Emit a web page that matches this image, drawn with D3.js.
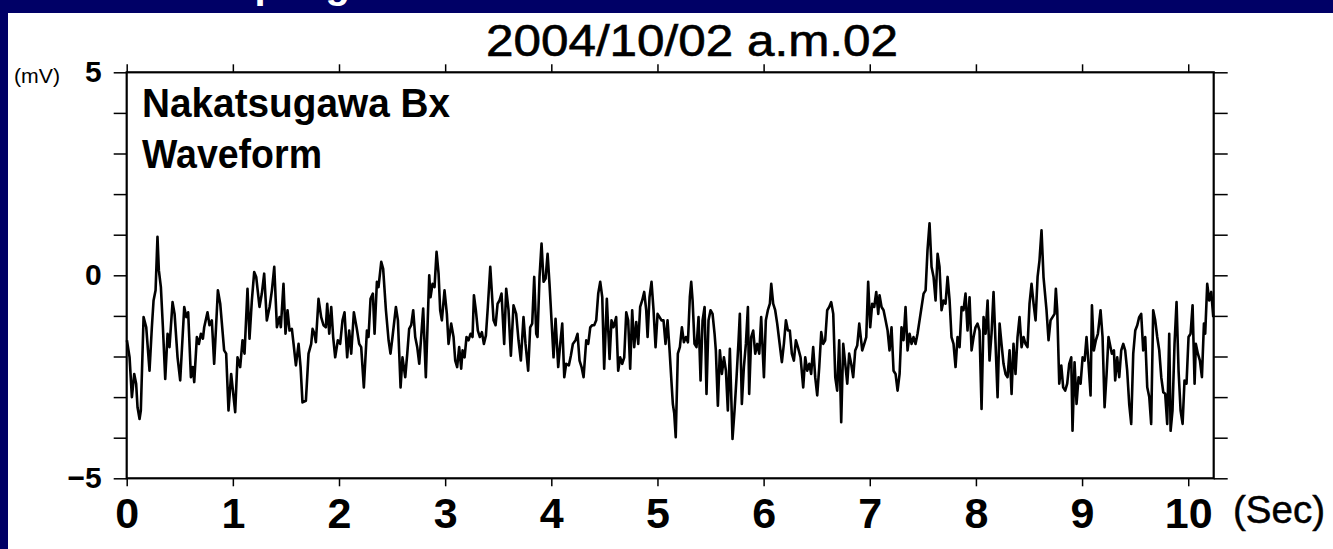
<!DOCTYPE html>
<html>
<head>
<meta charset="utf-8">
<title>Nakatsugawa Bx Waveform</title>
<script src="https://cdn.jsdelivr.net/npm/d3@7"></script>
<style>
    body { margin: 0; background: #000066; }
    #chart-area { width: 1333px; height: 549px; }
    text { font-family: "Liberation Sans", Arial, sans-serif; }
</style>
</head>
<body>
<div id="chart-area"></div>
<script>

// ---- data ----
const slideHeading = "Sampling";
const titleText = "2004/10/02 a.m.02";
const panelLines = ["Nakatsugawa Bx", "Waveform"];
const xUnit = "(Sec)";
const yUnit = "(mV)";

const xTicks = [0, 1, 2, 3, 4, 5, 6, 7, 8, 9, 10];
const yTicks = [-5, -4, -3, -2, -1, 0, 1, 2, 3, 4, 5];
const yLabelled = [-5, 0, 5];
const xDomain = [0, 10.24];
const yDomain = [-5, 5];

// time (s)
const waveTime = [
    0.002, 0.027, 0.049, 0.071, 0.089, 0.102, 0.121, 0.133, 0.159, 0.184, 0.215, 0.237, 0.253, 0.272, 0.290, 0.303,
    0.322, 0.341, 0.363, 0.385, 0.403, 0.432, 0.451, 0.479, 0.504, 0.542, 0.561, 0.579, 0.605, 0.623, 0.636, 0.661,
    0.680, 0.699, 0.718, 0.730, 0.761, 0.780, 0.802, 0.824, 0.859, 0.881, 0.918, 0.937, 0.959, 0.984, 1.022, 1.044,
    1.069, 1.091, 1.110, 1.138, 1.157, 1.179, 1.201, 1.220, 1.251, 1.273, 1.295, 1.320, 1.346, 1.368, 1.390, 1.415,
    1.440, 1.452, 1.477, 1.496, 1.515, 1.534, 1.556, 1.572, 1.594, 1.619, 1.638, 1.656, 1.688, 1.713, 1.738, 1.751,
    1.769, 1.782, 1.807, 1.832, 1.854, 1.876, 1.889, 1.908, 1.927, 1.945, 1.964, 1.989, 2.011, 2.033, 2.052, 2.077,
    2.096, 2.115, 2.140, 2.168, 2.190, 2.209, 2.234, 2.263, 2.278, 2.297, 2.319, 2.335, 2.357, 2.372, 2.398, 2.416,
    2.442, 2.467, 2.485, 2.504, 2.536, 2.555, 2.580, 2.598, 2.624, 2.643, 2.661, 2.680, 2.699, 2.718, 2.737, 2.756,
    2.774, 2.793, 2.818, 2.850, 2.862, 2.881, 2.900, 2.919, 2.938, 2.953, 2.969, 2.994, 3.016, 3.032, 3.057, 3.079,
    3.095, 3.113, 3.132, 3.151, 3.164, 3.183, 3.201, 3.220, 3.239, 3.258, 3.271, 3.289, 3.308, 3.327, 3.346, 3.365,
    3.384, 3.402, 3.425, 3.456, 3.475, 3.494, 3.512, 3.531, 3.556, 3.575, 3.597, 3.619, 3.644, 3.669, 3.691, 3.713,
    3.738, 3.757, 3.782, 3.801, 3.820, 3.839, 3.858, 3.870, 3.889, 3.908, 3.927, 3.946, 3.965, 3.983, 4.002, 4.021,
    4.040, 4.065, 4.084, 4.103, 4.122, 4.140, 4.165, 4.184, 4.203, 4.228, 4.247, 4.266, 4.285, 4.304, 4.329, 4.348,
    4.367, 4.385, 4.404, 4.423, 4.442, 4.461, 4.480, 4.498, 4.523, 4.549, 4.567, 4.586, 4.611, 4.630, 4.649, 4.668,
    4.687, 4.706, 4.724, 4.743, 4.762, 4.781, 4.800, 4.819, 4.837, 4.856, 4.875, 4.894, 4.907, 4.925, 4.944, 4.963,
    4.982, 5.001, 5.020, 5.038, 5.057, 5.076, 5.095, 5.114, 5.133, 5.145, 5.158, 5.172, 5.192, 5.211, 5.230, 5.249,
    5.268, 5.287, 5.305, 5.318, 5.331, 5.349, 5.368, 5.387, 5.406, 5.425, 5.444, 5.462, 5.481, 5.500, 5.519, 5.538,
    5.550, 5.569, 5.588, 5.607, 5.626, 5.645, 5.663, 5.682, 5.707, 5.726, 5.745, 5.764, 5.776, 5.795, 5.814, 5.833,
    5.852, 5.864, 5.883, 5.902, 5.921, 5.940, 5.959, 5.977, 6.003, 6.021, 6.040, 6.059, 6.072, 6.090, 6.109, 6.128,
    6.147, 6.172, 6.191, 6.210, 6.229, 6.247, 6.266, 6.285, 6.304, 6.323, 6.348, 6.373, 6.392, 6.411, 6.430, 6.448,
    6.467, 6.486, 6.505, 6.524, 6.543, 6.561, 6.580, 6.599, 6.618, 6.637, 6.656, 6.675, 6.693, 6.712, 6.731, 6.750,
    6.769, 6.788, 6.806, 6.825, 6.844, 6.863, 6.882, 6.901, 6.929, 6.948, 6.967, 6.985, 7.004, 7.023, 7.042, 7.061,
    7.080, 7.092, 7.111, 7.130, 7.149, 7.168, 7.186, 7.205, 7.224, 7.243, 7.262, 7.281, 7.299, 7.318, 7.337, 7.356,
    7.375, 7.394, 7.412, 7.431, 7.450, 7.469, 7.488, 7.507, 7.526, 7.544, 7.563, 7.582, 7.601, 7.620, 7.639, 7.657,
    7.676, 7.695, 7.714, 7.733, 7.752, 7.770, 7.789, 7.808, 7.827, 7.846, 7.865, 7.883, 7.902, 7.921, 7.940, 7.959,
    7.978, 7.996, 8.015, 8.034, 8.053, 8.072, 8.091, 8.110, 8.128, 8.147, 8.166, 8.185, 8.204, 8.223, 8.241, 8.260,
    8.279, 8.298, 8.317, 8.336, 8.354, 8.373, 8.392, 8.411, 8.430, 8.449, 8.467, 8.486, 8.505, 8.524, 8.543, 8.562,
    8.581, 8.599, 8.618, 8.637, 8.665, 8.684, 8.703, 8.722, 8.741, 8.753, 8.766, 8.785, 8.804, 8.822, 8.841, 8.860,
    8.879, 8.898, 8.910, 8.929, 8.948, 8.967, 8.986, 9.005, 9.024, 9.042, 9.061, 9.080, 9.093, 9.111, 9.130, 9.149,
    9.174, 9.193, 9.212, 9.231, 9.249, 9.268, 9.281, 9.300, 9.312, 9.331, 9.350, 9.369, 9.388, 9.406, 9.425, 9.444,
    9.463, 9.482, 9.501, 9.520, 9.538, 9.557, 9.576, 9.595, 9.614, 9.633, 9.651, 9.670, 9.689, 9.708, 9.727, 9.746,
    9.765, 9.783, 9.802, 9.821, 9.834, 9.852, 9.871, 9.890, 9.909, 9.928, 9.947, 9.965, 9.984, 10.003, 10.022, 10.041,
    10.060, 10.072, 10.091, 10.110, 10.129, 10.148, 10.160, 10.179, 10.198, 10.217, 10.236
];

// Bx (mV)
const waveMv = [
    -1.60, -2.02, -3.00, -2.43, -2.67, -3.25, -3.54, -3.33, -1.03, -1.28, -2.35, -1.28, -0.62, -0.37, 0.95, 0.12,
    -0.29, -1.28, -2.55, -1.44, -1.77, -0.66, -0.95, -2.02, -2.59, -0.78, -1.03, -0.91, -2.51, -2.26, -2.63, -1.52,
    -1.69, -1.44, -1.56, -1.28, -0.91, -1.23, -1.11, -2.18, -0.37, -0.70, -1.85, -1.93, -3.33, -2.43, -3.37, -2.02,
    -2.26, -1.60, -1.93, -0.33, -1.56, -0.62, 0.08, -0.04, -0.78, -0.45, 0.04, -1.11, -0.78, -0.37, 0.21, -1.28,
    -1.03, -1.28, -0.21, -1.44, -0.86, -1.36, -1.32, -1.69, -2.22, -1.69, -2.26, -3.13, -3.09, -1.93, -1.69, -1.32,
    -1.44, -1.65, -0.58, -1.03, -1.23, -1.28, -0.70, -1.44, -0.78, -1.52, -2.02, -1.60, -1.69, -1.11, -0.91, -2.02,
    -1.36, -1.93, -0.91, -1.32, -1.69, -1.77, -2.76, -1.36, -1.52, -0.58, -0.45, -1.44, -0.16, -0.29, 0.33, 0.16,
    -0.86, -1.60, -1.93, -1.52, -0.78, -1.11, -2.76, -2.02, -2.51, -1.93, -1.32, -1.23, -0.86, -1.52, -1.77, -2.18,
    -1.52, -0.82, -2.51, 0.00, -0.54, -0.21, -0.29, 0.58, 0.04, -0.86, -1.11, -0.37, -0.95, -1.69, -1.19, -1.52,
    -2.10, -2.26, -1.77, -2.30, -1.85, -2.02, -1.52, -1.60, -1.44, -1.52, -0.49, -0.86, -1.36, -1.52, -1.40, -1.69,
    -1.48, -0.78, 0.21, -1.11, -1.23, -0.70, -0.62, -0.45, -1.69, -0.33, -0.86, -1.98, -0.74, -0.95, -1.60, -2.10,
    -1.03, -1.69, -2.35, -1.28, -1.19, -0.04, -1.44, -1.52, -0.04, 0.78, -0.16, -0.08, 0.53, -0.21, -1.11, -2.02,
    -1.07, -2.26, -1.69, -1.19, -2.51, -2.18, -2.22, -1.98, -1.69, -1.60, -1.44, -2.10, -2.26, -2.51, -1.60, -1.69,
    -1.28, -1.23, -1.23, -1.11, -0.45, -0.16, -0.54, -2.30, -0.58, -2.06, -1.11, -1.28, -1.03, -2.35, -2.02, -2.18,
    -2.02, -0.91, -1.11, -2.30, -0.86, -1.77, -1.15, -1.69, -0.78, -0.62, -0.41, -0.86, -1.52, -0.54, -0.16, -0.86,
    -1.77, -0.95, -1.03, -1.11, -1.11, -1.69, -1.11, -1.85, -2.67, -3.17, -3.40, -3.99, -1.93, -1.77, -1.28, -1.65,
    -1.52, -1.65, -0.54, -0.16, -0.62, -1.69, -1.77, -1.03, -2.59, -1.11, -0.78, -2.92, -1.11, -0.86, -0.95, -1.44,
    -1.85, -3.21, -1.85, -2.43, -2.02, -2.35, -3.33, -1.81, -4.03, -3.33, -2.51, -1.60, -0.95, -3.17, -2.26, -1.69,
    -0.78, -2.92, -1.52, -1.36, -1.93, -1.69, -1.93, -1.03, -2.51, -1.11, -0.86, -0.70, -0.21, -0.70, -0.86, -1.19,
    -1.60, -2.14, -1.69, -1.11, -1.36, -1.36, -1.93, -2.10, -1.60, -1.77, -2.02, -2.76, -2.02, -2.35, -2.18, -2.43,
    -1.77, -2.51, -2.96, -2.26, -1.40, -1.69, -1.60, -0.86, -0.78, -0.66, -0.95, -2.51, -2.84, -1.60, -3.62, -1.69,
    -2.18, -2.67, -1.93, -2.18, -2.51, -1.85, -1.73, -1.19, -1.85, -1.69, -1.52, -0.16, -1.28, -0.70, -0.78, -0.41,
    -0.95, -0.49, -0.78, -0.86, -1.11, -1.36, -1.85, -1.28, -2.35, -2.43, -2.84, -2.43, -1.28, -1.60, -0.78, -1.85,
    -1.44, -1.69, -1.52, -1.69, -1.44, -1.11, -0.78, -0.45, -0.37, 0.62, 1.28, 0.21, -0.04, -0.62, 0.53, 0.21,
    -0.86, -0.62, -0.70, -0.04, -0.62, -1.52, -1.69, -2.26, -1.52, -1.77, -0.78, -0.86, -0.45, -1.36, -0.54, -1.85,
    -1.52, -1.28, -1.19, -1.36, -3.29, -1.03, -1.44, -0.62, -2.10, -1.44, -0.41, -1.69, -3.00, -1.19, -1.69, -2.18,
    -2.43, -2.51, -1.85, -2.92, -1.69, -2.43, -1.52, -1.03, -1.77, -1.52, -1.69, -1.77, -0.70, -0.21, -0.70, -1.11,
    -0.04, 0.37, 1.11, -0.05, -0.86, -1.60, -1.11, -1.03, -0.95, -0.33, -0.86, -2.67, -2.22, -2.76, -2.84, -2.67,
    -2.18, -2.02, -3.83, -2.14, -3.17, -2.51, -2.67, -2.02, -2.10, -1.52, -2.18, -2.96, -0.74, -1.85, -1.60, -1.44,
    -0.86, -1.52, -3.25, -2.43, -1.52, -1.77, -1.93, -1.85, -2.59, -2.02, -2.51, -1.85, -1.69, -1.85, -2.35, -3.17,
    -3.66, -1.93, -1.36, -1.23, -1.03, -0.95, -1.85, -1.52, -2.76, -3.00, -3.66, -0.86, -1.11, -1.52, -1.85, -2.51,
    -2.88, -2.92, -3.66, -1.44, -3.83, -3.33, -1.69, -0.66, -2.35, -3.33, -3.66, -2.59, -2.67, -1.52, -1.44, -0.74,
    -2.67, -1.69, -1.93, -2.10, -2.51, -1.19, -1.44, -0.21, -0.62, -0.41, -1.03
];

class WaveformChart {

    constructor(parentElement, time, values) {
        this.parentElement = parentElement;
        this.data = time.map((t, i) => ({ t: t, v: values[i] }));
        this.initVis();
    }

    initVis() {
        let vis = this;

        vis.totalWidth = 1333;
        vis.totalHeight = 549;

        vis.svg = d3.select("#" + vis.parentElement).append("svg")
            .attr("width", vis.totalWidth)
            .attr("height", vis.totalHeight);

        // slide background + the heading whose lower edge peeks above the white sheet
        vis.svg.append("rect")
            .attr("width", vis.totalWidth)
            .attr("height", vis.totalHeight)
            .attr("fill", "#000066");

        vis.svg.append("text")
            .attr("x", 170)
            .attr("y", -2)
            .attr("fill", "#fff")
            .attr("font-size", 40)
            .attr("font-weight", "bold")
            .text(slideHeading);

        vis.svg.append("rect")
            .attr("x", 8)
            .attr("y", 13)
            .attr("width", vis.totalWidth - 8)
            .attr("height", vis.totalHeight - 13)
            .attr("fill", "#fff");

        vis.x = d3.scaleLinear().domain(xDomain).range([126.7, 1213.7]);
        vis.y = d3.scaleLinear().domain(yDomain).range([478.3, 72.3]);

        vis.xAxisBottom = d3.axisBottom(vis.x)
            .tickValues(xTicks)
            .tickSize(8)
            .tickSizeOuter(0)
            .tickPadding(11)
            .tickFormat(d3.format("d"));

        vis.xAxisTop = d3.axisTop(vis.x)
            .tickValues(xTicks)
            .tickSize(8)
            .tickSizeOuter(0)
            .tickFormat("");

        vis.yAxisLeft = d3.axisLeft(vis.y)
            .tickValues(yTicks)
            .tickSize(13)
            .tickSizeOuter(0)
            .tickPadding(12)
            .tickFormat(d => yLabelled.includes(d) ? d3.format("d")(d) : "");

        vis.yAxisRight = d3.axisRight(vis.y)
            .tickValues(yTicks)
            .tickSize(14)
            .tickSizeOuter(0)
            .tickFormat("");

        vis.gx = vis.svg.append("g")
            .attr("class", "x-axis axis")
            .attr("transform", `translate(0, ${vis.y(-5)})`);

        vis.gxTop = vis.svg.append("g")
            .attr("class", "x-axis-top axis")
            .attr("transform", `translate(0, ${vis.y(5)})`);

        vis.gy = vis.svg.append("g")
            .attr("class", "y-axis axis")
            .attr("transform", `translate(${vis.x(0)}, 0)`);

        vis.gyRight = vis.svg.append("g")
            .attr("class", "y-axis-right axis")
            .attr("transform", `translate(${vis.x(xDomain[1])}, 0)`);

        // title
        vis.svg.append("text")
            .attr("x", 692)
            .attr("y", 56)
            .attr("text-anchor", "middle")
            .attr("font-size", 44)
            .attr("stroke", "#000")
            .attr("stroke-width", 0.6)
            .attr("textLength", 412)
            .attr("lengthAdjust", "spacingAndGlyphs")
            .text(titleText);

        // station label inside the frame
        vis.svg.append("g")
            .selectAll("text")
            .data(panelLines)
            .join("text")
            .attr("x", 142)
            .attr("y", (d, i) => 117 + i * 51)
            .attr("font-size", 40)
            .attr("font-weight", "bold")
            .attr("textLength", (d, i) => i === 0 ? 308 : 180)
            .attr("lengthAdjust", "spacingAndGlyphs")
            .text(d => d);

        // unit labels
        vis.svg.append("text")
            .attr("x", 14)
            .attr("y", 83)
            .attr("font-size", 21)
            .attr("textLength", 46)
            .attr("lengthAdjust", "spacingAndGlyphs")
            .text(yUnit);

        vis.svg.append("text")
            .attr("x", 1233)
            .attr("y", 523)
            .attr("font-size", 38)
            .attr("stroke", "#000")
            .attr("stroke-width", 0.5)
            .attr("textLength", 92)
            .attr("lengthAdjust", "spacingAndGlyphs")
            .text(xUnit);

        vis.line = d3.line()
            .x(d => vis.x(d.t))
            .y(d => vis.y(d.v));

        vis.updateVis();
    }

    updateVis() {
        let vis = this;

        vis.gx.call(vis.xAxisBottom);
        vis.gxTop.call(vis.xAxisTop);
        vis.gy.call(vis.yAxisLeft);
        vis.gyRight.call(vis.yAxisRight);

        vis.svg.selectAll(".axis path.domain").remove();
        vis.svg.selectAll(".axis line")
            .attr("stroke", "#000")
            .attr("stroke-width", 1.5);

        vis.gx.selectAll("text")
            .attr("font-size", 43)
            .attr("font-weight", "bold")
            .attr("fill", "#000")
            .attr("font-family", "Liberation Sans, Arial, sans-serif");

        vis.gy.selectAll("text")
            .attr("font-size", 30)
            .attr("font-weight", "bold")
            .attr("fill", "#000")
            .attr("font-family", "Liberation Sans, Arial, sans-serif");

        // frame
        vis.svg.append("rect")
            .attr("class", "frame")
            .attr("x", vis.x(xDomain[0]))
            .attr("y", vis.y(yDomain[1]))
            .attr("width", vis.x(xDomain[1]) - vis.x(xDomain[0]))
            .attr("height", vis.y(yDomain[0]) - vis.y(yDomain[1]))
            .attr("fill", "none")
            .attr("stroke", "#000")
            .attr("stroke-width", 2.2);

        vis.svg.append("path")
            .datum(vis.data)
            .attr("class", "wave")
            .attr("d", vis.line)
            .attr("fill", "none")
            .attr("stroke", "#000")
            .attr("stroke-width", 2.6)
            .attr("stroke-linejoin", "round");
    }
}

new WaveformChart("chart-area", waveTime, waveMv);

</script>
</body>
</html>
